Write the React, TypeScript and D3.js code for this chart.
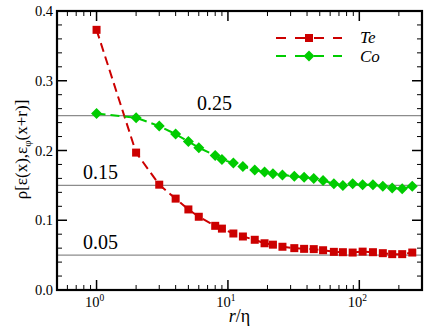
import React from 'react';
import * as d3 from 'd3';

// separation r/eta
const rValues = [1, 2, 3, 4, 5, 6, 8, 9, 11, 13, 16, 19, 22, 26, 32, 38, 45, 53, 64, 75, 89, 106, 127, 151, 178, 212, 253];
const teValues = [0.373, 0.197, 0.151, 0.131, 0.1155, 0.105, 0.092, 0.088, 0.081, 0.0767, 0.072, 0.067, 0.065, 0.062, 0.06, 0.059, 0.0586, 0.057, 0.0547, 0.0542, 0.0537, 0.055, 0.0542, 0.0528, 0.0514, 0.0514, 0.0537];
const coValues = [0.253, 0.247, 0.235, 0.2235, 0.213, 0.204, 0.193, 0.187, 0.182, 0.177, 0.172, 0.169, 0.1665, 0.165, 0.163, 0.1615, 0.16, 0.157, 0.1525, 0.15, 0.1525, 0.151, 0.151, 0.1486, 0.1463, 0.1453, 0.1486];
const refLevels = [0.25, 0.15, 0.05];
const refLabels = ['0.25', '0.15', '0.05'];
const yMajor = [0, 0.1, 0.2, 0.3, 0.4];
const xDecades = [1, 10, 100];

const W = 436;
const H = 327;
const margin = { left: 57, right: 14, top: 11, bottom: 37 };
const RED = '#cc0000';
const GREEN = '#00cc00';
const ff = { fontFamily: 'Liberation Serif' };

const App = () => {
  const x = d3.scaleLog().domain([0.5, 300]).range([margin.left, W - margin.right]);
  const y = d3.scaleLinear().domain([0, 0.4]).range([H - margin.bottom, margin.top]);
  const [x0, x1] = x.range();
  const [y0, y1] = y.range();

  const yMinor = d3.range(0, 0.4001, 0.02).filter(v => Math.abs(v * 10 - Math.round(v * 10)) > 1e-6);
  const xMinor: number[] = [];
  [0.1, 1, 10, 100].forEach(d => {
    for (let k = 2; k <= 9; k++) {
      const v = d * k;
      if (v >= 0.5 && v <= 300) xMinor.push(v);
    }
  });

  const line = d3.line<[number, number]>().x(d => x(d[0])).y(d => y(d[1]));
  const tePts = rValues.map((r, i) => [r, teValues[i]] as [number, number]);
  const coPts = rValues.map((r, i) => [r, coValues[i]] as [number, number]);

  const square = (cx: number, cy: number, key: string | number) => (
    <rect key={key} x={cx - 4} y={cy - 4} width={8} height={8} fill={RED} />
  );
  const diamond = (cx: number, cy: number, key: string | number) => (
    <path key={key} d={`M${cx},${cy - 5.5}L${cx + 5.5},${cy}L${cx},${cy + 5.5}L${cx - 5.5},${cy}Z`} fill={GREEN} />
  );

  const refLabelX = [197, 83, 83];

  return (
    <div style={{ position: 'fixed', left: 0, top: 0 }}>
      <svg width={W} height={H} style={{ display: 'block', background: '#fff' }}>
        {/* reference levels */}
        {refLevels.map((v, i) => (
          <g key={v}>
            <line x1={x0} x2={x1} y1={y(v)} y2={y(v)} stroke="#8c8c8c" strokeWidth={1.2} />
            <text x={refLabelX[i]} y={y(v) - 6} fontSize={20} fill="#000" style={ff}>{refLabels[i]}</text>
          </g>
        ))}

        {/* series */}
        <path d={line(tePts) || ''} fill="none" stroke={RED} strokeWidth={2} strokeDasharray="9,5" />
        <path d={line(coPts) || ''} fill="none" stroke={GREEN} strokeWidth={2} strokeDasharray="9,5" />
        {tePts.map((d, i) => square(x(d[0]), y(d[1]), 'te' + i))}
        {coPts.map((d, i) => diamond(x(d[0]), y(d[1]), 'co' + i))}

        {/* legend */}
        <line x1={276} x2={342} y1={38} y2={38} stroke={RED} strokeWidth={2} strokeDasharray="10,9" />
        {square(309, 38, 'lte')}
        <text x={360} y={43} fontSize={17} fontStyle="italic" style={ff}>Te</text>
        <line x1={276} x2={342} y1={56} y2={56} stroke={GREEN} strokeWidth={2} strokeDasharray="10,9" />
        {diamond(309, 56, 'lco')}
        <text x={360} y={62} fontSize={17} fontStyle="italic" style={ff}>Co</text>

        {/* ticks */}
        <g stroke="#000" strokeWidth={1}>
          {yMajor.map(v => (
            <g key={'ym' + v}>
              <line x1={x0} x2={x0 + 10} y1={y(v)} y2={y(v)} strokeWidth={1.5} />
              <line x1={x1} x2={x1 - 10} y1={y(v)} y2={y(v)} strokeWidth={1.5} />
            </g>
          ))}
          {yMinor.map(v => (
            <g key={'yn' + v}>
              <line x1={x0} x2={x0 + 5} y1={y(v)} y2={y(v)} />
              <line x1={x1} x2={x1 - 5} y1={y(v)} y2={y(v)} />
            </g>
          ))}
          {xDecades.map(v => (
            <g key={'xm' + v}>
              <line x1={x(v)} x2={x(v)} y1={y0} y2={y0 - 10} strokeWidth={1.5} />
              <line x1={x(v)} x2={x(v)} y1={y1} y2={y1 + 10} strokeWidth={1.5} />
            </g>
          ))}
          {xMinor.map(v => (
            <g key={'xn' + v}>
              <line x1={x(v)} x2={x(v)} y1={y0} y2={y0 - 5} />
              <line x1={x(v)} x2={x(v)} y1={y1} y2={y1 + 5} />
            </g>
          ))}
        </g>

        {/* frame */}
        <rect x={x0} y={y1} width={x1 - x0} height={y0 - y1} fill="none" stroke="#000" strokeWidth={2.2} />

        {/* tick labels */}
        {yMajor.map(v => (
          <text key={'yl' + v} x={x0 - 4} y={y(v) + 5} fontSize={14.5} textAnchor="end" style={ff}>{d3.format('.1f')(v)}</text>
        ))}
        {xDecades.map(v => (
          <text key={'xl' + v} x={x(v) - 2} y={y0 + 17} fontSize={14.5} textAnchor="middle" style={ff}>
            10<tspan fontSize={9.5} dy={-6}>{Math.round(Math.log10(v))}</tspan>
          </text>
        ))}

        {/* axis titles */}
        <text x={x(Math.sqrt(0.5 * 300))} y={H - 5} fontSize={18} textAnchor="middle" style={ff}>
          <tspan fontStyle="italic">r</tspan>/η
        </text>
        <text transform={`translate(27,${(y0 + y1) / 2 - 1}) rotate(-90)`} fontSize={17} textAnchor="middle" style={ff}>
          ρ[ε(x),ε<tspan fontSize={11} dy={4}>φ</tspan><tspan dy={-4}>(x+r)]</tspan>
        </text>
      </svg>
    </div>
  );
};

export default App;
